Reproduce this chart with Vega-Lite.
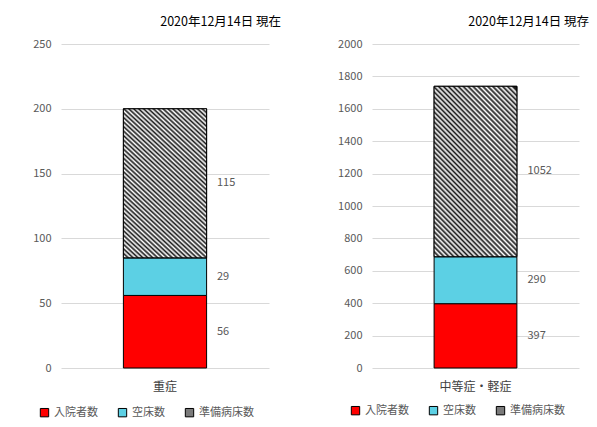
{
  "$schema": "https://vega.github.io/schema/vega-lite/v6.json",
  "padding": {"left": 32, "top": 15, "right": 2, "bottom": 2},
  "data": {"values": [
    {"panel": "A", "category": "重症", "type": "入院者数", "order": 1, "value": 56},
    {"panel": "A", "category": "重症", "type": "空床数", "order": 2, "value": 29},
    {"panel": "A", "category": "重症", "type": "準備病床数", "order": 3, "value": 115},
    {"panel": "B", "category": "中等症・軽症", "type": "入院者数", "order": 1, "value": 397},
    {"panel": "B", "category": "中等症・軽症", "type": "空床数", "order": 2, "value": 290},
    {"panel": "B", "category": "中等症・軽症", "type": "準備病床数", "order": 3, "value": 1052}
  ]},
  "spacing": 56,
  "hconcat": [
    {
      "width": 208, "height": 324,
      "title": {"text": "2020年12月14日 現在", "anchor": "end", "dx": 12},
      "transform": [
        {"filter": "datum.panel === 'A'"},
        {"stack": "value", "groupby": ["category"], "sort": [{"field": "order"}], "as": ["y0", "y1"]},
        {"calculate": "(datum.y0 + datum.y1) / 2", "as": "ymid"}
      ],
      "encoding": {
        "x": {"field": "category", "type": "nominal", "scale": {"paddingInner": 0, "paddingOuter": 0.75}, "axis": {"title": null}}
      },
      "layer": [
        {
          "mark": {"type": "bar", "stroke": "#000000", "strokeWidth": 1},
          "encoding": {
            "y": {"field": "y1", "type": "quantitative", "scale": {"domain": [0, 250], "nice": false}, "axis": {"values": [0, 50, 100, 150, 200, 250], "format": "d", "labelOverlap": false, "title": null}},
            "y2": {"field": "y0"},
            "color": {"field": "type", "type": "nominal", "scale": {"domain": ["入院者数", "空床数", "準備病床数"], "range": ["#ff0000", "#5cd0e4", "#7a7a7a"]}, "legend": {"title": null, "orient": "none", "legendX": -22, "legendY": 363}}
          }
        },
        {
          "transform": [{"filter": "datum.type === '準備病床数'"}],
          "mark": {"type": "bar", "stroke": "#000000", "strokeWidth": 1, "fill": {"gradient": "linear", "x1": 0, "y1": 1, "x2": 0.62, "y2": -0.2, "stops": [
            {"offset": 0.00, "color": "#1a1a1a"}, {"offset": 0.01, "color": "#ffffff"}, {"offset": 0.02, "color": "#1a1a1a"}, {"offset": 0.03, "color": "#ffffff"}, {"offset": 0.04, "color": "#1a1a1a"}, {"offset": 0.05, "color": "#ffffff"}, {"offset": 0.06, "color": "#1a1a1a"}, {"offset": 0.07, "color": "#ffffff"}, {"offset": 0.08, "color": "#1a1a1a"}, {"offset": 0.09, "color": "#ffffff"},
            {"offset": 0.10, "color": "#1a1a1a"}, {"offset": 0.11, "color": "#ffffff"}, {"offset": 0.12, "color": "#1a1a1a"}, {"offset": 0.13, "color": "#ffffff"}, {"offset": 0.14, "color": "#1a1a1a"}, {"offset": 0.15, "color": "#ffffff"}, {"offset": 0.16, "color": "#1a1a1a"}, {"offset": 0.17, "color": "#ffffff"}, {"offset": 0.18, "color": "#1a1a1a"}, {"offset": 0.19, "color": "#ffffff"},
            {"offset": 0.20, "color": "#1a1a1a"}, {"offset": 0.21, "color": "#ffffff"}, {"offset": 0.22, "color": "#1a1a1a"}, {"offset": 0.23, "color": "#ffffff"}, {"offset": 0.24, "color": "#1a1a1a"}, {"offset": 0.25, "color": "#ffffff"}, {"offset": 0.26, "color": "#1a1a1a"}, {"offset": 0.27, "color": "#ffffff"}, {"offset": 0.28, "color": "#1a1a1a"}, {"offset": 0.29, "color": "#ffffff"},
            {"offset": 0.30, "color": "#1a1a1a"}, {"offset": 0.31, "color": "#ffffff"}, {"offset": 0.32, "color": "#1a1a1a"}, {"offset": 0.33, "color": "#ffffff"}, {"offset": 0.34, "color": "#1a1a1a"}, {"offset": 0.35, "color": "#ffffff"}, {"offset": 0.36, "color": "#1a1a1a"}, {"offset": 0.37, "color": "#ffffff"}, {"offset": 0.38, "color": "#1a1a1a"}, {"offset": 0.39, "color": "#ffffff"},
            {"offset": 0.40, "color": "#1a1a1a"}, {"offset": 0.41, "color": "#ffffff"}, {"offset": 0.42, "color": "#1a1a1a"}, {"offset": 0.43, "color": "#ffffff"}, {"offset": 0.44, "color": "#1a1a1a"}, {"offset": 0.45, "color": "#ffffff"}, {"offset": 0.46, "color": "#1a1a1a"}, {"offset": 0.47, "color": "#ffffff"}, {"offset": 0.48, "color": "#1a1a1a"}, {"offset": 0.49, "color": "#ffffff"},
            {"offset": 0.50, "color": "#1a1a1a"}, {"offset": 0.51, "color": "#ffffff"}, {"offset": 0.52, "color": "#1a1a1a"}, {"offset": 0.53, "color": "#ffffff"}, {"offset": 0.54, "color": "#1a1a1a"}, {"offset": 0.55, "color": "#ffffff"}, {"offset": 0.56, "color": "#1a1a1a"}, {"offset": 0.57, "color": "#ffffff"}, {"offset": 0.58, "color": "#1a1a1a"}, {"offset": 0.59, "color": "#ffffff"},
            {"offset": 0.60, "color": "#1a1a1a"}, {"offset": 0.61, "color": "#ffffff"}, {"offset": 0.62, "color": "#1a1a1a"}, {"offset": 0.63, "color": "#ffffff"}, {"offset": 0.64, "color": "#1a1a1a"}, {"offset": 0.65, "color": "#ffffff"}, {"offset": 0.66, "color": "#1a1a1a"}, {"offset": 0.67, "color": "#ffffff"}, {"offset": 0.68, "color": "#1a1a1a"}, {"offset": 0.69, "color": "#ffffff"},
            {"offset": 0.70, "color": "#1a1a1a"}, {"offset": 0.71, "color": "#ffffff"}, {"offset": 0.72, "color": "#1a1a1a"}, {"offset": 0.73, "color": "#ffffff"}, {"offset": 0.74, "color": "#1a1a1a"}, {"offset": 0.75, "color": "#ffffff"}, {"offset": 0.76, "color": "#1a1a1a"}, {"offset": 0.77, "color": "#ffffff"}, {"offset": 0.78, "color": "#1a1a1a"}, {"offset": 0.79, "color": "#ffffff"},
            {"offset": 0.80, "color": "#1a1a1a"}, {"offset": 0.81, "color": "#ffffff"}, {"offset": 0.82, "color": "#1a1a1a"}, {"offset": 0.83, "color": "#ffffff"}, {"offset": 0.84, "color": "#1a1a1a"}, {"offset": 0.85, "color": "#ffffff"}, {"offset": 0.86, "color": "#1a1a1a"}, {"offset": 0.87, "color": "#ffffff"}, {"offset": 0.88, "color": "#1a1a1a"}, {"offset": 0.89, "color": "#ffffff"},
            {"offset": 0.90, "color": "#1a1a1a"}, {"offset": 0.91, "color": "#ffffff"}, {"offset": 0.92, "color": "#1a1a1a"}, {"offset": 0.93, "color": "#ffffff"}, {"offset": 0.94, "color": "#1a1a1a"}, {"offset": 0.95, "color": "#ffffff"}, {"offset": 0.96, "color": "#1a1a1a"}, {"offset": 0.97, "color": "#ffffff"}, {"offset": 0.98, "color": "#1a1a1a"}, {"offset": 0.99, "color": "#ffffff"},
            {"offset": 1.00, "color": "#1a1a1a"}
          ]}},
          "encoding": {
            "y": {"field": "y1", "type": "quantitative", "scale": {"domain": [0, 250], "nice": false}, "axis": {"values": [0, 50, 100, 150, 200, 250], "format": "d", "labelOverlap": false, "title": null}},
            "y2": {"field": "y0"}
          }
        },
        {
          "mark": {"type": "text", "align": "left", "dx": 52, "fontSize": 11, "color": "#595959"},
          "encoding": {
            "y": {"field": "ymid", "type": "quantitative", "scale": {"domain": [0, 250], "nice": false}, "axis": {"values": [0, 50, 100, 150, 200, 250], "format": "d", "labelOverlap": false, "title": null}},
            "text": {"field": "value", "type": "quantitative"}
          }
        }
      ]
    },
    {
      "width": 207, "height": 324,
      "title": {"text": "2020年12月14日 現存", "anchor": "end", "dx": 10},
      "transform": [
        {"filter": "datum.panel === 'B'"},
        {"stack": "value", "groupby": ["category"], "sort": [{"field": "order"}], "as": ["y0", "y1"]},
        {"calculate": "(datum.y0 + datum.y1) / 2", "as": "ymid"}
      ],
      "encoding": {
        "x": {"field": "category", "type": "nominal", "scale": {"paddingInner": 0, "paddingOuter": 0.75}, "axis": {"title": null}}
      },
      "layer": [
        {
          "mark": {"type": "bar", "stroke": "#000000", "strokeWidth": 1},
          "encoding": {
            "y": {"field": "y1", "type": "quantitative", "scale": {"domain": [0, 2000], "nice": false}, "axis": {"values": [0, 200, 400, 600, 800, 1000, 1200, 1400, 1600, 1800, 2000], "format": "d", "labelOverlap": false, "title": null}},
            "y2": {"field": "y0"},
            "color": {"field": "type", "type": "nominal", "scale": {"domain": ["入院者数", "空床数", "準備病床数"], "range": ["#ff0000", "#5cd0e4", "#7a7a7a"]}, "legend": {"title": null, "orient": "none", "legendX": -22, "legendY": 361}}
          }
        },
        {
          "transform": [{"filter": "datum.type === '準備病床数'"}],
          "mark": {"type": "bar", "stroke": "#000000", "strokeWidth": 1, "fill": {"gradient": "linear", "x1": 0, "y1": 1, "x2": 0.58, "y2": -0.18, "stops": [
            {"offset": 0.00, "color": "#1a1a1a"}, {"offset": 0.01, "color": "#ffffff"}, {"offset": 0.02, "color": "#1a1a1a"}, {"offset": 0.03, "color": "#ffffff"}, {"offset": 0.04, "color": "#1a1a1a"}, {"offset": 0.05, "color": "#ffffff"}, {"offset": 0.06, "color": "#1a1a1a"}, {"offset": 0.07, "color": "#ffffff"}, {"offset": 0.08, "color": "#1a1a1a"}, {"offset": 0.09, "color": "#ffffff"},
            {"offset": 0.10, "color": "#1a1a1a"}, {"offset": 0.11, "color": "#ffffff"}, {"offset": 0.12, "color": "#1a1a1a"}, {"offset": 0.13, "color": "#ffffff"}, {"offset": 0.14, "color": "#1a1a1a"}, {"offset": 0.15, "color": "#ffffff"}, {"offset": 0.16, "color": "#1a1a1a"}, {"offset": 0.17, "color": "#ffffff"}, {"offset": 0.18, "color": "#1a1a1a"}, {"offset": 0.19, "color": "#ffffff"},
            {"offset": 0.20, "color": "#1a1a1a"}, {"offset": 0.21, "color": "#ffffff"}, {"offset": 0.22, "color": "#1a1a1a"}, {"offset": 0.23, "color": "#ffffff"}, {"offset": 0.24, "color": "#1a1a1a"}, {"offset": 0.25, "color": "#ffffff"}, {"offset": 0.26, "color": "#1a1a1a"}, {"offset": 0.27, "color": "#ffffff"}, {"offset": 0.28, "color": "#1a1a1a"}, {"offset": 0.29, "color": "#ffffff"},
            {"offset": 0.30, "color": "#1a1a1a"}, {"offset": 0.31, "color": "#ffffff"}, {"offset": 0.32, "color": "#1a1a1a"}, {"offset": 0.33, "color": "#ffffff"}, {"offset": 0.34, "color": "#1a1a1a"}, {"offset": 0.35, "color": "#ffffff"}, {"offset": 0.36, "color": "#1a1a1a"}, {"offset": 0.37, "color": "#ffffff"}, {"offset": 0.38, "color": "#1a1a1a"}, {"offset": 0.39, "color": "#ffffff"},
            {"offset": 0.40, "color": "#1a1a1a"}, {"offset": 0.41, "color": "#ffffff"}, {"offset": 0.42, "color": "#1a1a1a"}, {"offset": 0.43, "color": "#ffffff"}, {"offset": 0.44, "color": "#1a1a1a"}, {"offset": 0.45, "color": "#ffffff"}, {"offset": 0.46, "color": "#1a1a1a"}, {"offset": 0.47, "color": "#ffffff"}, {"offset": 0.48, "color": "#1a1a1a"}, {"offset": 0.49, "color": "#ffffff"},
            {"offset": 0.50, "color": "#1a1a1a"}, {"offset": 0.51, "color": "#ffffff"}, {"offset": 0.52, "color": "#1a1a1a"}, {"offset": 0.53, "color": "#ffffff"}, {"offset": 0.54, "color": "#1a1a1a"}, {"offset": 0.55, "color": "#ffffff"}, {"offset": 0.56, "color": "#1a1a1a"}, {"offset": 0.57, "color": "#ffffff"}, {"offset": 0.58, "color": "#1a1a1a"}, {"offset": 0.59, "color": "#ffffff"},
            {"offset": 0.60, "color": "#1a1a1a"}, {"offset": 0.61, "color": "#ffffff"}, {"offset": 0.62, "color": "#1a1a1a"}, {"offset": 0.63, "color": "#ffffff"}, {"offset": 0.64, "color": "#1a1a1a"}, {"offset": 0.65, "color": "#ffffff"}, {"offset": 0.66, "color": "#1a1a1a"}, {"offset": 0.67, "color": "#ffffff"}, {"offset": 0.68, "color": "#1a1a1a"}, {"offset": 0.69, "color": "#ffffff"},
            {"offset": 0.70, "color": "#1a1a1a"}, {"offset": 0.71, "color": "#ffffff"}, {"offset": 0.72, "color": "#1a1a1a"}, {"offset": 0.73, "color": "#ffffff"}, {"offset": 0.74, "color": "#1a1a1a"}, {"offset": 0.75, "color": "#ffffff"}, {"offset": 0.76, "color": "#1a1a1a"}, {"offset": 0.77, "color": "#ffffff"}, {"offset": 0.78, "color": "#1a1a1a"}, {"offset": 0.79, "color": "#ffffff"},
            {"offset": 0.80, "color": "#1a1a1a"}, {"offset": 0.81, "color": "#ffffff"}, {"offset": 0.82, "color": "#1a1a1a"}, {"offset": 0.83, "color": "#ffffff"}, {"offset": 0.84, "color": "#1a1a1a"}, {"offset": 0.85, "color": "#ffffff"}, {"offset": 0.86, "color": "#1a1a1a"}, {"offset": 0.87, "color": "#ffffff"}, {"offset": 0.88, "color": "#1a1a1a"}, {"offset": 0.89, "color": "#ffffff"},
            {"offset": 0.90, "color": "#1a1a1a"}, {"offset": 0.91, "color": "#ffffff"}, {"offset": 0.92, "color": "#1a1a1a"}, {"offset": 0.93, "color": "#ffffff"}, {"offset": 0.94, "color": "#1a1a1a"}, {"offset": 0.95, "color": "#ffffff"}, {"offset": 0.96, "color": "#1a1a1a"}, {"offset": 0.97, "color": "#ffffff"}, {"offset": 0.98, "color": "#1a1a1a"}, {"offset": 0.99, "color": "#ffffff"},
            {"offset": 1.00, "color": "#1a1a1a"}
          ]}},
          "encoding": {
            "y": {"field": "y1", "type": "quantitative", "scale": {"domain": [0, 2000], "nice": false}, "axis": {"values": [0, 200, 400, 600, 800, 1000, 1200, 1400, 1600, 1800, 2000], "format": "d", "labelOverlap": false, "title": null}},
            "y2": {"field": "y0"}
          }
        },
        {
          "mark": {"type": "text", "align": "left", "dx": 52, "fontSize": 11, "color": "#595959"},
          "encoding": {
            "y": {"field": "ymid", "type": "quantitative", "scale": {"domain": [0, 2000], "nice": false}, "axis": {"values": [0, 200, 400, 600, 800, 1000, 1200, 1400, 1600, 1800, 2000], "format": "d", "labelOverlap": false, "title": null}},
            "text": {"field": "value", "type": "quantitative"}
          }
        }
      ]
    }
  ],
  "resolve": {"scale": {"color": "independent", "y": "independent", "x": "independent"}, "legend": {"color": "independent"}},
  "config": {
    "font": "Noto Sans CJK JP",
    "view": {"stroke": null},
    "title": {"fontSize": 12.5, "fontWeight": "normal", "color": "#000000", "offset": 10, "font": "Noto Sans CJK JP"},
    "axisY": {"grid": true, "gridColor": "#d9d9d9", "domain": false, "ticks": false, "labelColor": "#595959", "labelFontSize": 11, "labelPadding": 10},
    "axisX": {"grid": false, "domain": false, "ticks": false, "labelAngle": 0, "labelFontSize": 12, "labelColor": "#404040", "labelPadding": 13},
    "legend": {"direction": "horizontal", "symbolType": "square", "symbolSize": 70, "symbolStrokeColor": "#000000", "symbolStrokeWidth": 1, "symbolOpacity": 1, "labelFontSize": 11, "labelColor": "#595959", "columnPadding": 18}
  }
}
